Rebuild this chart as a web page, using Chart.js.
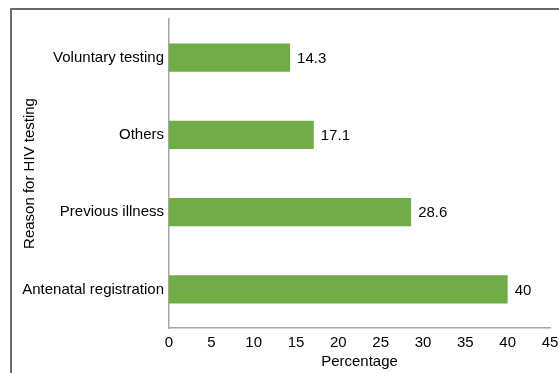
<!DOCTYPE html>
<html lang="en">
<head>
<meta charset="UTF-8">
<title>Reason for HIV testing</title>
<script src="https://cdn.jsdelivr.net/npm/chart.js"></script>
<style>
  html, body { margin: 0; padding: 0; background: #fff; overflow: hidden; }
  .frame {
    position: absolute; left: 10px; top: 8px; width: 700px; height: 500px;
    border-top: 2px solid #6b6b6b; border-left: 2px solid #6b6b6b;
  }
  .chart { position: absolute; left: 0; top: 0; width: 559px; height: 373px; }
</style>
</head>
<body>
<div class="frame"></div>
<div class="chart"><canvas id="myChart" width="559" height="373"></canvas></div>

<script>
  // data
  const reasons = ['Voluntary testing', 'Others', 'Previous illness', 'Antenatal registration'];
  const percentages = [14.3, 17.1, 28.6, 40];

  // write the value just right of each bar
  const valueLabels = {
    id: 'valueLabels',
    afterDatasetsDraw(chart) {
      const ctx = chart.ctx;
      const meta = chart.getDatasetMeta(0);
      ctx.save();
      ctx.font = '15px "Liberation Sans", Arial, sans-serif';
      ctx.fillStyle = '#000';
      ctx.textAlign = 'left';
      ctx.textBaseline = 'middle';
      meta.data.forEach(function (bar, i) {
        ctx.fillText(String(percentages[i]), bar.x + 7, bar.y + 1);
      });
      ctx.restore();
    }
  };

  Chart.defaults.font.family = '"Liberation Sans", Arial, sans-serif';
  Chart.defaults.font.size = 15;
  Chart.defaults.color = '#000';

  const dados = {
    labels: reasons,
    datasets: [{
      label: 'Percentage',
      data: percentages,
      backgroundColor: '#70AD47',
      borderWidth: 0,
      barPercentage: 0.9,
      categoryPercentage: 0.404
    }]
  };

  const config = {
    type: 'bar',
    data: dados,
    options: {
      indexAxis: 'y',
      responsive: false,
      animation: false,
      layout: { padding: { left: 21, top: 19, right: 9, bottom: 2 } },
      plugins: {
        legend: { display: false },
        tooltip: { enabled: false }
      },
      scales: {
        x: {
          min: 0,
          max: 45,
          ticks: { stepSize: 5, padding: 6, maxRotation: 0 },
          grid: { display: false, drawTicks: false },
          border: { color: '#a6a6a6', width: 1.5 },
          title: { display: true, text: 'Percentage', padding: { top: 0, bottom: 0 } },
          afterFit: function (scale) {
            scale.height = 43;
            scale.paddingLeft = 0;
            scale.paddingRight = 0;
          }
        },
        y: {
          ticks: { padding: 5 },
          grid: { display: false, drawTicks: false },
          border: { color: '#a6a6a6', width: 1.5 },
          title: { display: true, text: 'Reason for HIV testing', padding: { top: 0, bottom: 0 } },
          afterFit: function (scale) { scale.width = 148; }
        }
      }
    },
    plugins: [valueLabels]
  };

  const myChart = new Chart(document.getElementById('myChart'), config);
</script>
</body>
</html>
